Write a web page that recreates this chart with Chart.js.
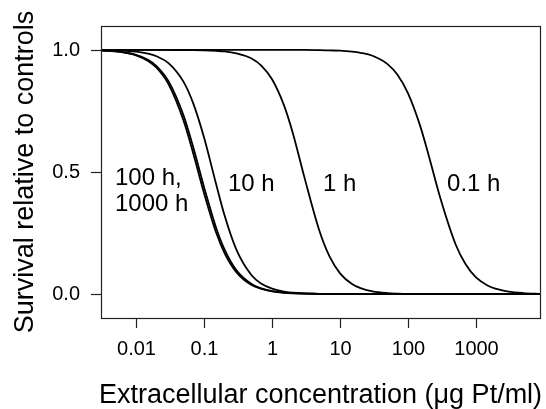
<!DOCTYPE html>
<html>
<head>
<meta charset="utf-8">
<script src="https://cdn.jsdelivr.net/npm/chart.js@4.4.1/dist/chart.umd.min.js"></script>
<style>
  html, body { margin: 0; padding: 0; background: #fff; }
  canvas { display: block; }
</style>
</head>
<body>
<canvas id="chart" width="546" height="409"></canvas>
<script>
// concentration grid (ug Pt/ml) shared by all curves
const conc = [0.003, 0.005, 0.007, 0.01, 0.015, 0.02, 0.03, 0.05, 0.07, 0.1,
  0.15, 0.2, 0.3, 0.5, 0.7, 1, 1.5, 2, 3, 5,
  7, 10, 15, 20, 30, 50, 70, 100, 150, 200,
  300, 500, 700, 1000, 1500, 2000, 3000, 5000, 9000];

// survival, one array per exposure time
const surv1000h = [0.997, 0.994, 0.988, 0.978, 0.955, 0.927, 0.860, 0.710, 0.572, 0.413,
  0.253, 0.168, 0.089, 0.037, 0.021, 0.011, 0.005, 0.003, 0.002, 0.001,
  0, 0, 0, 0, 0, 0, 0, 0, 0, 0, 0, 0, 0, 0, 0, 0, 0, 0, 0];
const surv100h = [0.998, 0.994, 0.989, 0.980, 0.960, 0.934, 0.872, 0.731, 0.597, 0.438,
  0.273, 0.183, 0.097, 0.041, 0.023, 0.012, 0.006, 0.004, 0.002, 0.001,
  0, 0, 0, 0, 0, 0, 0, 0, 0, 0, 0, 0, 0, 0, 0, 0, 0, 0, 0];
const surv10h = [0.999, 0.998, 0.996, 0.993, 0.985, 0.974, 0.946, 0.869, 0.778, 0.641,
  0.452, 0.323, 0.181, 0.077, 0.042, 0.022, 0.010, 0.006, 0.003, 0.001,
  0.001, 0, 0, 0, 0, 0, 0, 0, 0, 0, 0, 0, 0, 0, 0, 0, 0, 0, 0];
const surv1h = [1, 1, 1, 1, 1, 1, 1, 0.999, 0.999, 0.998,
  0.996, 0.994, 0.986, 0.965, 0.935, 0.880, 0.773, 0.664, 0.477, 0.257,
  0.154, 0.085, 0.041, 0.024, 0.011, 0.004, 0.002, 0.001, 0.001, 0,
  0, 0, 0, 0, 0, 0, 0, 0, 0];
const surv01h = [1, 1, 1, 1, 1, 1, 1, 1, 1, 1,
  1, 1, 1, 1, 1, 1, 1, 1, 1, 0.999,
  0.998, 0.997, 0.993, 0.988, 0.976, 0.942, 0.898, 0.822, 0.691, 0.571,
  0.391, 0.204, 0.123, 0.068, 0.034, 0.021, 0.010, 0.004, 0.001];

const xTicks = [0.01, 0.1, 1, 10, 100, 1000];
const xTickLabels = ['0.01', '0.1', '1', '10', '100', '1000'];
const yTicks = [0, 0.5, 1];
const yTickLabels = ['0.0', '0.5', '1.0'];

// curve labels: text, concentration, survival (left edge / baseline)
const curveLabels = ['100 h,', '1000 h', '10 h', '1 h', '0.1 h'];
const labelX = [0.0049, 0.0049, 0.225, 5.6, 375];
const labelY = [0.447, 0.340, 0.422, 0.422, 0.422];

const xTitle = 'Extracellular concentration (\u03BCg Pt/ml)';
const yTitle = 'Survival relative to controls';

const FONT = '"Liberation Sans", Arial, Helvetica, sans-serif';

function series(ys) {
  return conc.map((x, i) => ({ x: x, y: ys[i] }));
}

function curve(ys) {
  return {
    data: series(ys),
    borderColor: '#000',
    borderWidth: 1.8,
    pointRadius: 0,
    fill: false,
    cubicInterpolationMode: 'monotone'
  };
}

const decorations = {
  id: 'decorations',
  afterDraw(chart) {
    const ctx = chart.ctx;
    const area = chart.chartArea;
    const xs = chart.scales.x;
    const ys = chart.scales.y;
    ctx.save();

    // frame
    ctx.strokeStyle = '#222';
    ctx.lineWidth = 1.2;
    ctx.strokeRect(Math.round(area.left) + 0.5, Math.round(area.top) + 0.5,
      Math.round(area.right - area.left), Math.round(area.bottom - area.top));

    // x ticks
    ctx.fillStyle = '#000';
    ctx.font = '20px ' + FONT;
    ctx.textAlign = 'center';
    ctx.textBaseline = 'alphabetic';
    xTicks.forEach((v, i) => {
      const px = Math.round(xs.getPixelForValue(v)) + 0.5;
      ctx.beginPath();
      ctx.moveTo(px, area.bottom);
      ctx.lineTo(px, area.bottom + 10);
      ctx.stroke();
      ctx.fillText(xTickLabels[i], px, 355);
    });

    // y ticks
    ctx.textAlign = 'right';
    ctx.textBaseline = 'middle';
    yTicks.forEach((v, i) => {
      const py = Math.round(ys.getPixelForValue(v)) + 0.5;
      ctx.beginPath();
      ctx.moveTo(area.left, py);
      ctx.lineTo(area.left - 10, py);
      ctx.stroke();
      ctx.fillText(yTickLabels[i], 80, py);
    });

    // axis titles
    ctx.font = '27px ' + FONT;
    ctx.textAlign = 'center';
    ctx.textBaseline = 'alphabetic';
    ctx.fillText(xTitle, (area.left + area.right) / 2, 403);
    ctx.save();
    ctx.translate(33, (area.top + area.bottom) / 2);
    ctx.rotate(-Math.PI / 2);
    ctx.fillText(yTitle, 0, 0);
    ctx.restore();

    // curve labels
    ctx.font = '24px ' + FONT;
    ctx.textAlign = 'left';
    curveLabels.forEach((t, i) => {
      ctx.fillText(t, xs.getPixelForValue(labelX[i]), ys.getPixelForValue(labelY[i]));
    });

    ctx.restore();
  }
};

new Chart(document.getElementById('chart'), {
  type: 'line',
  data: {
    datasets: [curve(surv1000h), curve(surv100h), curve(surv10h), curve(surv1h), curve(surv01h)]
  },
  options: {
    responsive: false,
    animation: false,
    devicePixelRatio: 1,
    layout: { padding: { left: 101, top: 26, right: 6, bottom: 91 } },
    plugins: { legend: { display: false }, tooltip: { enabled: false } },
    scales: {
      x: { type: 'logarithmic', min: 0.00305, max: 8730, display: false },
      y: { type: 'linear', min: -0.098, max: 1.098, display: false }
    }
  },
  plugins: [decorations]
});
</script>
</body>
</html>
